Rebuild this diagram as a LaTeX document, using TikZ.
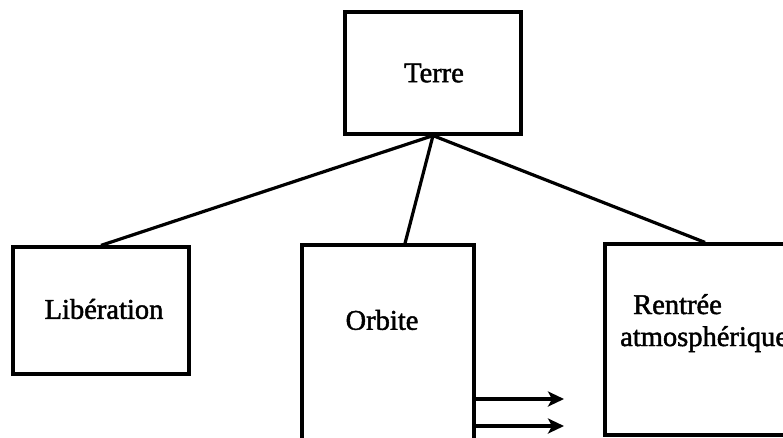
\documentclass[tikz,border=0pt]{standalone}
\usepackage{fontspec}
\setmainfont{Liberation Serif}[RawFeature={embolden=1.6}]
\usetikzlibrary{arrows.meta}
\begin{document}
\begin{tikzpicture}[x=1pt,y=-1pt,
  box/.style={draw, line width=3.2pt, rectangle, inner sep=0pt},
  txt/.style={font=\fontsize{28.5}{30}\selectfont, inner sep=0pt},
  link/.style={line width=3.2pt},
  flow/.style={line width=3.2pt, -{Stealth[length=16pt,width=15pt,inset=4pt]}}]
\useasboundingbox (0,0) rectangle (783,437);
\clip (0,0) rectangle (783,437);

% boxes
\node[box, minimum width=176pt, minimum height=122pt] (terre) at (433,73) {};
\node[box, minimum width=176pt, minimum height=127pt] (lib) at (101,310.5) {};
\node[box, minimum width=172pt, minimum height=240pt] (orb) at (388,365) {};
\node[box, minimum width=200pt, minimum height=191pt] (ren) at (705,339.5) {};

% labels
\node[txt] (tTerre) at (434,73) {Terre};
\node[txt] (tLib) at (104,309) {Libération};
\node[txt] (tOrb) at (382,320) {Orbite};
\node[txt, anchor=base west] (tRen1) at (633,314) {Rentrée};
\node[txt, anchor=base west] (tRen2) at (620,346) {atmosphérique};

% links from the top box
\draw[link] (terre.south) -- (lib.north);
\draw[link] (terre.south) -- ([xshift=17pt]orb.north);
\draw[link] (terre.south) -- (ren.north);

% outgoing arrows
\coordinate (a1) at (564,399);
\coordinate (a2) at (564,426);
\draw[flow] (orb.east |- a1) -- (a1);
\draw[flow] (orb.east |- a2) -- (a2);
\end{tikzpicture}
\end{document}
